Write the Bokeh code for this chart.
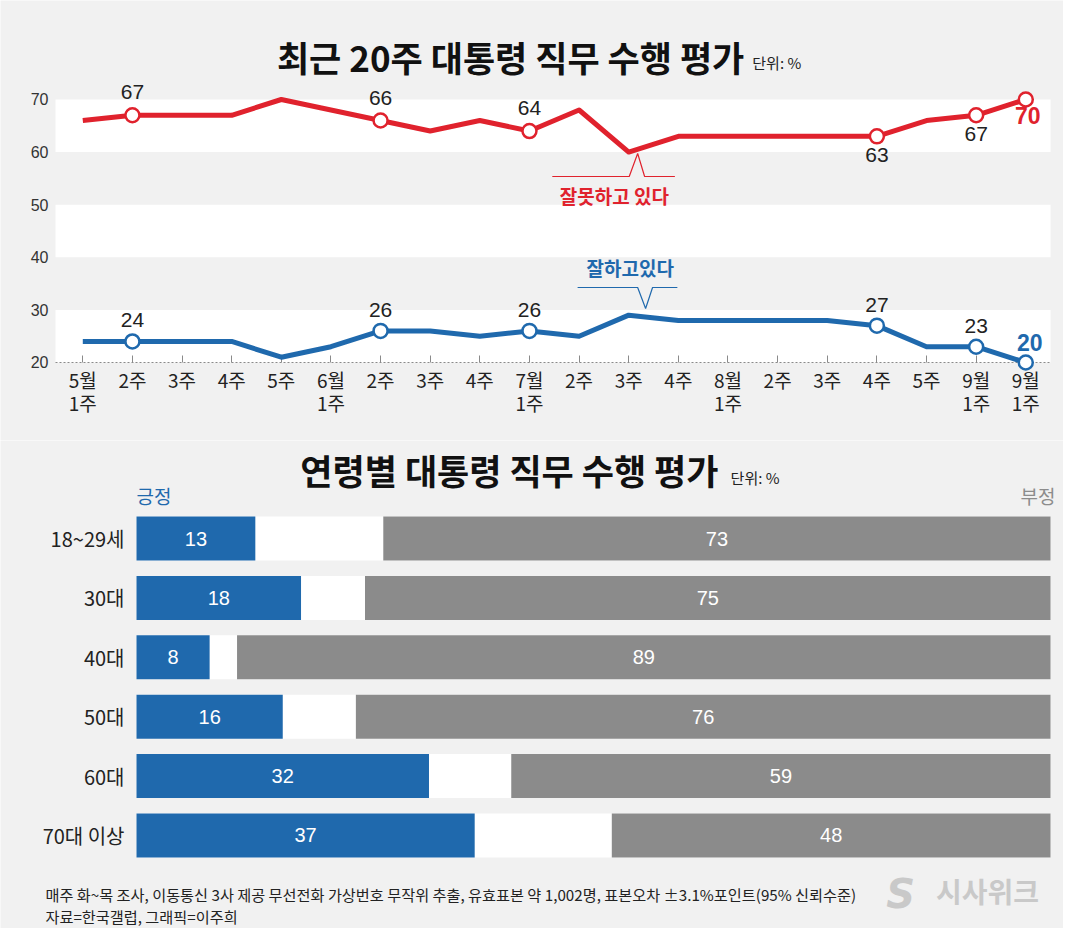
from bokeh.plotting import figure
from bokeh.models import Range1d, BoxAnnotation, FixedTicker, LinearAxis
from bokeh.layouts import column
from bokeh.embed import file_html
from bokeh.resources import INLINE
from bokeh.core.properties import value

# ---------------- data ----------------
weeks_top = ["5월", "2주", "3주", "4주", "5주", "6월", "2주", "3주", "4주", "7월",
             "2주", "3주", "4주", "8월", "2주", "3주", "4주", "5주", "9월", "9월"]
weeks_sub = ["1주", "", "", "", "", "1주", "", "", "", "1주",
             "", "", "", "1주", "", "", "", "", "1주", "1주"]
negative = [66, 67, 67, 67, 70, 68, 66, 64, 66, 64, 68, 60, 63, 63, 63, 63, 63, 66, 67, 70]
positive = [24, 24, 24, 24, 21, 23, 26, 26, 25, 26, 25, 29, 28, 28, 28, 28, 27, 23, 23, 20]
marked = [1, 6, 9, 16, 18, 19]
y_ticks = [20, 30, 40, 50, 60, 70]

ages = ["18~29세", "30대", "40대", "50대", "60대", "70대 이상"]
age_pos = [13, 18, 8, 16, 32, 37]
age_neg = [73, 75, 89, 76, 59, 48]

# ---------------- style ----------------
BG = "#f1f1f1"
RED = "#e0222d"
BLUE = "#1f69ad"
GRAY = "#8b8b8b"
KR = "Noto Sans CJK KR"
NUM = "Liberation Sans"

idx = list(range(len(weeks_top)))

# ================= top chart =================
p1 = figure(width=1063, height=440, x_range=Range1d(-1.658, 19.760), y_range=Range1d(5.17, 88.82),
            output_backend="svg", toolbar_location=None, min_border=0,
            background_fill_color=BG, border_fill_color=BG, outline_line_color=None)
p1.grid.visible = False

band_l, band_r = -0.55, 19.5
for lo, hi in [(60, 70), (40, 50), (20, 30)]:
    p1.add_layout(BoxAnnotation(left=band_l, right=band_r, bottom=lo, top=hi,
                                fill_color="white", fill_alpha=1, line_color=None, level="image"))

xa = p1.xaxis[0]
xa.level = "underlay"
xa.fixed_location = 20
xa.bounds = (band_l, band_r)
xa.ticker = FixedTicker(ticks=idx)
xa.major_label_overrides = {i: w for i, w in enumerate(weeks_top)}
xa.axis_line_color = "#8a8a8a"
xa.axis_line_dash = "2 2"
xa.axis_line_width = 1
xa.major_tick_in = 7
xa.major_tick_out = 0
xa.major_tick_line_color = "#8a8a8a"
xa.minor_tick_line_color = None
xa.major_label_text_font = KR
xa.major_label_text_font_size = "19px"
xa.major_label_text_color = "#222222"
xa.major_label_standoff = 4

xa2 = LinearAxis(fixed_location=20, ticker=FixedTicker(ticks=idx),
                 major_label_overrides={i: w for i, w in enumerate(weeks_sub)},
                 axis_line_color=None, major_tick_line_color=None, minor_tick_line_color=None,
                 major_label_text_font=KR, major_label_text_font_size="19px",
                 major_label_text_color="#222222", major_label_standoff=21)
p1.add_layout(xa2, "below")

ya = p1.yaxis[0]
ya.fixed_location = band_l
ya.ticker = FixedTicker(ticks=y_ticks)
ya.axis_line_color = None
ya.major_tick_line_color = None
ya.minor_tick_line_color = None
ya.major_label_text_font = NUM
ya.major_label_text_font_size = "16px"
ya.major_label_text_color = "#333333"
ya.major_label_standoff = 1

# lines
p1.line(idx, negative, line_color=RED, line_width=5, line_join="round")
p1.line(idx, positive, line_color=BLUE, line_width=5, line_join="round")
p1.scatter([idx[i] for i in marked], [negative[i] for i in marked], size=14,
           fill_color="white", line_color=RED, line_width=2.5)
p1.scatter([idx[i] for i in marked], [positive[i] for i in marked], size=14,
           fill_color="white", line_color=BLUE, line_width=2.5)

# value labels
above_red = [1, 6, 9]
below_red = [16, 18]
p1.text([idx[i] for i in above_red], [negative[i] for i in above_red],
        text=[str(negative[i]) for i in above_red], text_align="center", text_baseline="alphabetic",
        y_offset=-23, text_font=value(NUM), text_font_size="21px", text_color="#222222")
p1.text([idx[i] for i in below_red], [negative[i] for i in below_red],
        text=[str(negative[i]) for i in below_red], text_align="center", text_baseline="alphabetic",
        y_offset=19, text_font=value(NUM), text_font_size="21px", text_color="#222222")
last = len(idx) - 1
p1.text([idx[last]], [negative[last]], text=[str(negative[last])], text_align="center",
        text_baseline="alphabetic", x_offset=2, y_offset=16, text_font=value(NUM),
        text_font_size="23px", text_font_style="bold", text_color=RED)

above_blue = [1, 6, 9, 16, 18]
p1.text([idx[i] for i in above_blue], [positive[i] for i in above_blue],
        text=[str(positive[i]) for i in above_blue], text_align="center", text_baseline="alphabetic",
        y_offset=-21, text_font=value(NUM), text_font_size="21px", text_color="#222222")
p1.text([idx[last]], [positive[last]], text=[str(positive[last])], text_align="center",
        text_baseline="alphabetic", x_offset=4, y_offset=-20, text_font=value(NUM),
        text_font_size="23px", text_font_style="bold", text_color=BLUE)

# callouts at the week-11 point
k = 11
rx, ry = idx[k], negative[k]
p1.line([rx - 1.54, rx + 0.01, rx + 0.18, rx + 0.32, rx + 0.93],
        [ry - 4.64, ry - 4.64, ry - 0.27, ry - 4.64, ry - 4.64], line_color=RED, line_width=1.2)
p1.text([rx - 0.29], [ry - 8.25], text=["잘못하고 있다"], text_align="center", text_baseline="middle",
        text_font=value(KR), text_font_style="bold", text_font_size="19px", text_color=RED)

bx, by = idx[k], positive[k]
p1.line([bx - 1.03, bx + 0.18, bx + 0.34, bx + 0.48, bx + 0.98],
        [by + 5.26, by + 5.26, by + 1.27, by + 5.26, by + 5.26], line_color=BLUE, line_width=1.2)
p1.text([bx + 0.03], [by + 8.97], text=["잘하고있다"], text_align="center", text_baseline="middle",
        text_font=value(KR), text_font_style="bold", text_font_size="19px", text_color=BLUE)

# title
p1.text([8.62], [78.2], text=["최근 20주 대통령 직무 수행 평가"], text_align="center",
        text_baseline="middle", text_font=value(KR), text_font_style="bold",
        text_font_size="35px", text_color="#111111")
p1.text([13.49], [77.03], text=["단위: %"], text_align="left", text_baseline="middle",
        text_font=value(KR), text_font_size="15px", text_color="#222222")

# ================= bottom chart =================
rows = list(range(len(ages)))
p2 = figure(width=1063, height=488, x_range=Range1d(-14.880, 101.42), y_range=Range1d(6.566, -1.650),
            output_backend="svg", toolbar_location=None, min_border=0,
            background_fill_color=BG, border_fill_color=BG, outline_line_color=None)
p2.grid.visible = False
p2.xaxis.visible = False

ya2 = p2.yaxis[0]
ya2.fixed_location = 0
ya2.ticker = FixedTicker(ticks=rows)
ya2.major_label_overrides = {i: a for i, a in enumerate(ages)}
ya2.axis_line_color = None
ya2.major_tick_line_color = None
ya2.minor_tick_line_color = None
ya2.major_label_text_font = KR
ya2.major_label_text_font_size = "20px"
ya2.major_label_text_color = "#222222"
ya2.major_label_standoff = 6

bar_h = 0.74
p2.hbar(y=rows, left=0, right=100, height=bar_h, fill_color="white", line_color=None)
p2.hbar(y=rows, left=0, right=age_pos, height=bar_h, fill_color=BLUE, line_color=None)
p2.hbar(y=rows, left=[100 - n for n in age_neg], right=100, height=bar_h, fill_color=GRAY, line_color=None)

p2.text([v / 2 for v in age_pos], rows, text=[str(v) for v in age_pos], text_align="center",
        text_baseline="middle", text_font=value(NUM), text_font_size="20px", text_color="white")
p2.text([100 - n / 2 for n in age_neg], rows, text=[str(n) for n in age_neg], text_align="center",
        text_baseline="middle", text_font=value(NUM), text_font_size="20px", text_color="white")

p2.text([0], [-0.724], text=["긍정"], text_align="left", text_baseline="middle",
        text_font=value(KR), text_font_size="19px", text_color=BLUE)
p2.text([100.55], [-0.724], text=["부정"], text_align="right", text_baseline="middle",
        text_font=value(KR), text_font_size="19px", text_color="#8c8c8c")

p2.text([40.8], [-1.16], text=["연령별 대통령 직무 수행 평가"], text_align="center",
        text_baseline="middle", text_font=value(KR), text_font_style="bold",
        text_font_size="35px", text_color="#111111")
p2.text([65.0], [-1.027], text=["단위: %"], text_align="left", text_baseline="middle",
        text_font=value(KR), text_font_size="15px", text_color="#222222")

p2.text([-9.96, -9.96], [5.98, 6.35],
        text=["매주 화~목 조사, 이동통신 3사 제공 무선전화 가상번호 무작위 추출, 유효표본 약 1,002명, 표본오차 ±3.1%포인트(95% 신뢰수준)",
              "자료=한국갤럽, 그래픽=이주희"],
        text_align="left", text_baseline="middle", text_font=value(KR),
        text_font_size="15.2px", text_color="#222222")

p2.text([83.6], [5.98], text=["S"], text_align="center", text_baseline="middle",
        text_font=value("DejaVu Sans"), text_font_style="bold italic", text_font_size="40px",
        text_color="#c9c9c9")
p2.text([93.1], [5.94], text=["시사위크"], text_align="center", text_baseline="middle",
        text_font=value(KR), text_font_style="bold", text_font_size="28px", text_color="#c9c9c9")

layout = column(p1, p2, spacing=0)
open("out.html", "w").write(file_html(layout, INLINE))
